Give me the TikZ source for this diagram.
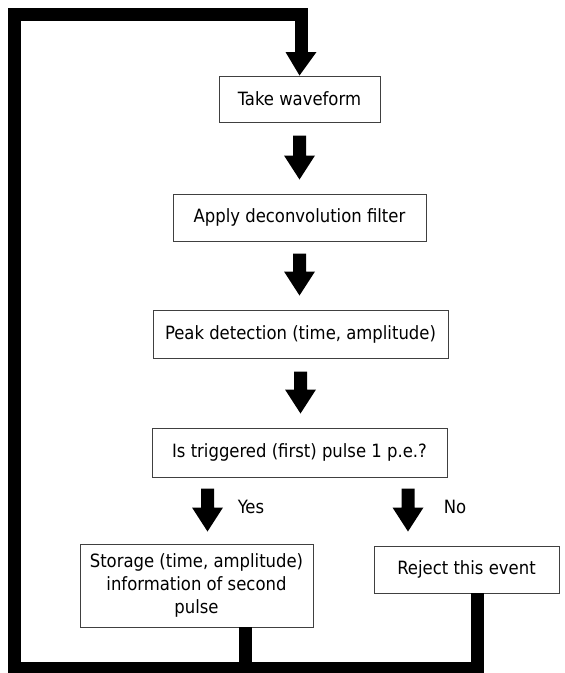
\documentclass[tikz,border=0pt]{standalone}
\usepackage{fontspec}
\setmainfont{DejaVu Sans Condensed}
\usetikzlibrary{calc}
% block arrow: #1 = top of shaft, #2 = tip (only its y is used)
\newcommand\blockarrow[2]{%
  \fill[black] let \p1=(#1), \p2=(#2) in
    (\x1-6.5pt,\y1) -- (\x1-6.5pt,\y2+24pt) -- (\x1-15.5pt,\y2+24pt) --
    (\x1,\y2) -- (\x1+15.5pt,\y2+24pt) -- (\x1+6.5pt,\y2+24pt) --
    (\x1+6.5pt,\y1) -- cycle;}
\begin{document}
\begin{tikzpicture}[x=1pt,y=-1pt,
  box/.style={draw=black!75, line width=1pt, inner sep=0pt, align=center,
              font=\fontsize{18.3}{23}\selectfont},
  lbl/.style={inner sep=0pt, font=\fontsize{18.3}{23}\selectfont},
  flow/.style={line width=13pt, line join=miter, line cap=butt}]
\fill[white] (0,0) rectangle (565,673);
\useasboundingbox (0,0) rectangle (565,673);

\node[box, minimum width=161, minimum height=46] (b1) at (299.5,99) {Take waveform};
\node[box, minimum width=253, minimum height=47] (b2) at (299.5,217.5) {Apply deconvolution filter};
\node[box, minimum width=295, minimum height=48] (b3) at (300.5,334) {Peak detection (time, amplitude)};
\node[box, minimum width=295, minimum height=49] (b4) at (299.5,452.5) {Is triggered (first) pulse 1 p.e.?};
\node[box, minimum width=233, minimum height=83] (b5) at (196.5,585.5) {Storage (time, amplitude)\\information of second\\pulse};
\node[box, minimum width=185, minimum height=47] (b6) at (466.5,569.5) {Reject this event};

\node[lbl] (yes) at (251,507) {Yes};
\node[lbl] (no) at (455,507) {No};

% corner coordinates of the loop
\coordinate (bl) at (14.5,668);
\coordinate (tl) at (14.5,14.5);
\coordinate (tr) at (301,14.5);
\coordinate (rjx) at (477,593);
\coordinate (stx) at (245,627);
\coordinate (headtop) at (301,52);

% return loop
\draw[flow] (rjx) -- (rjx |- bl) -- (bl) -- (tl) -- (tr) -- (headtop);
\draw[flow] (stx) -- (stx |- bl);
\fill[black] (headtop) ++(-15.5,0) -- ++(31,0) -- (b1.north) -- cycle;

% block arrows between steps
\blockarrow{$(b1.south)+(0,13)$}{$(b2.north)+(0,-14)$}
\blockarrow{$(b2.south)+(0,12)$}{$(b3.north)+(0,-14)$}
\blockarrow{$(b3.south)+(0,13)$}{$(b4.north)+(0,-14)$}
\blockarrow{$(b4.south)+(-92,11)$}{$(b5.north)+(0,-12)$}
\blockarrow{$(b4.south)+(108.5,11)$}{$(b6.north)+(0,-14)$}
\end{tikzpicture}
\end{document}
